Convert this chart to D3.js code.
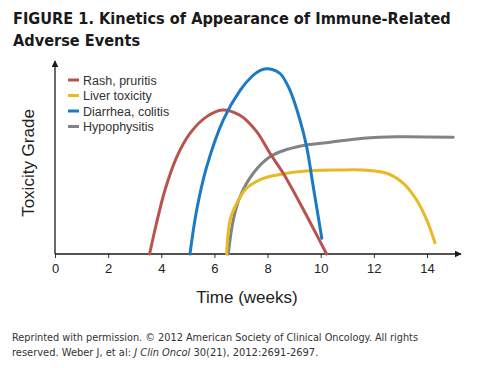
<!DOCTYPE html>
<html><head><meta charset="utf-8">
<script src="https://cdn.jsdelivr.net/npm/d3@7"></script>
<style>
html,body{margin:0;padding:0;background:#fff;}
svg{display:block;}
</style></head>
<body>
<svg id="chart" width="484" height="368"></svg>
<script>
// ---- data ----
const seriesNames = ["Rash, pruritis", "Liver toxicity", "Diarrhea, colitis", "Hypophysitis"];
const seriesColors = ["#b9544c", "#e8b922", "#1b7bc2", "#808487"];
const xTicks = [0, 2, 4, 6, 8, 10, 12, 14];

const rashWeeks  = [3.56, 3.8, 4.14, 4.58, 5.08, 5.71, 6.3, 6.96, 7.59, 8.09, 8.59, 9.22, 9.85, 10.22];
const rashValues = [0, 15, 33.7, 51, 63.5, 72.3, 75.8, 73, 64.4, 53, 42.5, 26.7, 10, 0];

const liverWeeks  = [6.46, 6.59, 6.84, 7.21, 7.84, 8.72, 9.72, 10.66, 11.6, 12.48, 13.11, 13.61, 13.99, 14.3];
const liverValues = [0, 17.9, 26.7, 34.6, 39.8, 42.5, 43.9, 44.2, 44.2, 42.5, 37.2, 28.4, 17.9, 5.9];

const colitisWeeks  = [5.08, 5.33, 5.71, 6.33, 6.96, 7.4, 7.75, 8.09, 8.47, 8.84, 9.22, 9.47, 9.72, 10.04];
const colitisValues = [0, 23, 46, 70.5, 86, 93.3, 96.8, 97.4, 95, 86.3, 70.5, 56.5, 35.4, 8.3];

const hypoWeeks  = [6.52, 6.71, 6.96, 7.46, 8.09, 8.72, 9.47, 10.35, 11.6, 12.86, 14.99];
const hypoValues = [0, 17.9, 30, 42.5, 51.2, 55, 57.4, 58.8, 60.9, 61.7, 61.4];

const seriesWeeks = [rashWeeks, liverWeeks, colitisWeeks, hypoWeeks];
const seriesValues = [rashValues, liverValues, colitisValues, hypoValues];

// ---- drawing ----
const svg = d3.select("#chart");
const x = d3.scaleLinear().domain([0, 14]).range([55, 427]);
const y = d3.scaleLinear().domain([0, 100]).range([254, 64]);

// title
const title = svg.append("g").attr("font-family", "'DejaVu Sans Condensed','Liberation Sans Narrow',sans-serif")
  .attr("font-weight", "bold").attr("fill", "#1a1a1a");
function fitText(sel, target, size) {
  sel.attr("font-size", size);
  const w = sel.node().getComputedTextLength();
  if (w > 0) sel.attr("font-size", size * target / w);
}
const t1 = title.append("text").attr("x", 13).attr("y", 24).text("FIGURE 1. Kinetics of Appearance of Immune-Related");
fitText(t1, 438, 18);
title.append("text").attr("x", 13).attr("y", 46).attr("font-size", t1.attr("font-size")).text("Adverse Events");

// arrow marker
const defs = svg.append("defs");
defs.append("marker").attr("id", "arrow").attr("viewBox", "0 0 10 10").attr("refX", 9).attr("refY", 5)
  .attr("markerWidth", 7).attr("markerHeight", 7).attr("markerUnits", "userSpaceOnUse").attr("orient", "auto")
  .append("path").attr("d", "M0,0 L10,5 L0,10 z").attr("fill", "#1a1a1a");

// x axis
const xAxis = d3.axisBottom(x).tickValues(xTicks).tickSize(4).tickFormat(d3.format("d"));
const gx = svg.append("g").attr("transform", "translate(0,254)").call(xAxis);
gx.select(".domain").remove();
gx.selectAll(".tick line").attr("stroke", "#333");
gx.selectAll(".tick text").attr("font-family", "'Liberation Sans',Arial,sans-serif").attr("font-size", 13)
  .attr("fill", "#222").attr("dy", "0.95em");
svg.append("line").attr("x1", 55).attr("x2", 461).attr("y1", 254).attr("y2", 254)
  .attr("stroke", "#1a1a1a").attr("stroke-width", 1.3).attr("marker-end", "url(#arrow)");
// y axis
svg.append("line").attr("x1", 55).attr("x2", 55).attr("y1", 254).attr("y2", 61)
  .attr("stroke", "#1a1a1a").attr("stroke-width", 1.3).attr("marker-end", "url(#arrow)");

// axis titles
svg.append("text").attr("x", 247).attr("y", 303).attr("text-anchor", "middle")
  .attr("font-family", "'Liberation Sans',Arial,sans-serif").attr("font-size", 17).attr("fill", "#222")
  .text("Time (weeks)");
svg.append("text").attr("transform", "translate(34,163) rotate(-90)").attr("text-anchor", "middle")
  .attr("font-family", "'Liberation Sans',Arial,sans-serif").attr("font-size", 17).attr("fill", "#222")
  .text("Toxicity Grade");

// lines
const line = d3.line().x(d => x(d[0])).y(d => y(d[1])).curve(d3.curveCatmullRom.alpha(0.5));
const drawOrder = [3, 1, 0, 2];
drawOrder.forEach(i => {
  const pts = seriesWeeks[i].map((w, k) => [w, seriesValues[i][k]]);
  svg.append("path").attr("d", line(pts)).attr("fill", "none")
    .attr("stroke", seriesColors[i]).attr("stroke-width", 3).attr("stroke-linecap", "round");
});

// legend
const leg = svg.append("g");
seriesNames.forEach((n, i) => {
  const yy = 80 + i * 15.5;
  leg.append("line").attr("x1", 68).attr("x2", 79).attr("y1", yy).attr("y2", yy)
    .attr("stroke", seriesColors[i]).attr("stroke-width", 3);
  leg.append("text").attr("x", 83).attr("y", yy + 4.5).attr("font-family", "'Liberation Sans',Arial,sans-serif")
    .attr("font-size", 12.5).attr("fill", "#333").text(n);
});

// footnote
const foot = svg.append("g").attr("font-family", "'DejaVu Sans Condensed','Liberation Sans Narrow',sans-serif")
  .attr("font-size", 11).attr("fill", "#333");
foot.append("text").attr("x", 12).attr("y", 341).attr("textLength", 406).attr("lengthAdjust", "spacingAndGlyphs")
  .text("Reprinted with permission. © 2012 American Society of Clinical Oncology. All rights");
const t2 = foot.append("text").attr("x", 12).attr("y", 356);
t2.append("tspan").text("reserved. Weber J, et al: ");
t2.append("tspan").attr("font-style", "italic").text("J Clin Oncol");
t2.append("tspan").text(" 30(21), 2012:2691-2697.");
</script>
</body></html>
